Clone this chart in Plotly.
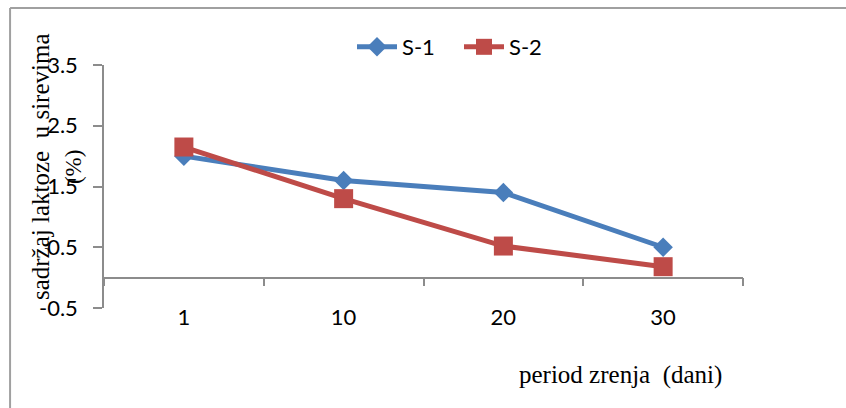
import plotly.graph_objects as go

categories = ["1", "10", "20", "30"]
s1 = [2.0, 1.6, 1.4, 0.5]
s2 = [2.15, 1.3, 0.52, 0.18]
y_ticks = [-0.5, 0.5, 1.5, 2.5, 3.5]
y_title = "sadržaj laktoze  u sirevima"
y_title2 = "(%)"
x_title = "period zrenja  (dani)"

xpos = list(range(len(categories)))
bounds = [i - 0.5 for i in range(len(categories) + 1)]

fig = go.Figure()
fig.add_trace(go.Scatter(x=xpos, y=s1, name="S-1", mode="lines+markers",
                         line=dict(color="#4a7ebb", width=5),
                         marker=dict(symbol="diamond", size=15, color="#4a7ebb")))
fig.add_trace(go.Scatter(x=xpos, y=s2, name="S-2", mode="lines+markers", xaxis="x2",
                         line=dict(color="#be4b48", width=5),
                         marker=dict(symbol="square", size=19, color="#be4b48")))

axis_col = "#8c8c8c"
fig.update_layout(
    width=846, height=408,
    margin=dict(l=104, r=103, t=65, b=100),
    paper_bgcolor="white", plot_bgcolor="white",
    font=dict(family="Lato", size=22, color="#000000"),
    showlegend=True,
    legend=dict(orientation="h", x=(352 - 104) / 639, xanchor="left", y=1.074, yanchor="middle",
                font=dict(size=22), itemwidth=40, entrywidth=52, bgcolor="rgba(0,0,0,0)"),
    xaxis=dict(range=[-0.5, len(categories) - 0.5], tickvals=xpos, ticktext=categories,
               showline=False, ticks="", showgrid=False, zeroline=False,
               tickfont=dict(size=22), ticklabelstandoff=-6),
    xaxis2=dict(range=[-0.5, len(categories) - 0.5], overlaying="x", anchor="free",
                position=0.125, side="bottom", tickvals=bounds, showticklabels=False,
                ticks="outside", ticklen=8, tickcolor=axis_col, tickwidth=1.5,
                showline=True, linecolor=axis_col, linewidth=1.5,
                showgrid=False, zeroline=False),
    yaxis=dict(range=[-0.5, 3.5], tickvals=y_ticks, ticktext=[str(v) for v in y_ticks],
               ticks="outside", ticklen=9, tickcolor=axis_col, tickwidth=1.5,
               showline=True, linecolor=axis_col, linewidth=1.5,
               showgrid=False, zeroline=False, ticklabelstandoff=11,
               tickfont=dict(size=22)),
    shapes=[
        dict(type="line", xref="paper", yref="paper", x0=-0.147, x1=1.2, y0=1.2345, y1=1.2345,
             line=dict(color="#a0a0a0", width=2)),
        dict(type="line", xref="paper", yref="paper", x0=-0.147, x1=-0.147, y0=1.2345, y1=-0.42,
             line=dict(color="#a0a0a0", width=2)),
    ],
    annotations=[
        dict(text=y_title, xref="paper", yref="paper", x=(40 - 104) / 639, y=0.58,
             xanchor="center", yanchor="middle", textangle=-90, showarrow=False,
             font=dict(family="Liberation Serif", size=25)),
        dict(text=y_title2, xref="paper", yref="paper", x=(73 - 104) / 639, y=0.58,
             xanchor="center", yanchor="middle", textangle=-90, showarrow=False,
             font=dict(family="Liberation Serif", size=23)),
        dict(text=x_title, xref="paper", yref="paper", x=(620 - 104) / 639, y=-0.276,
             xanchor="center", yanchor="middle", showarrow=False,
             font=dict(family="Liberation Serif", size=25)),
    ],
)

fig.write_html("out.html")
